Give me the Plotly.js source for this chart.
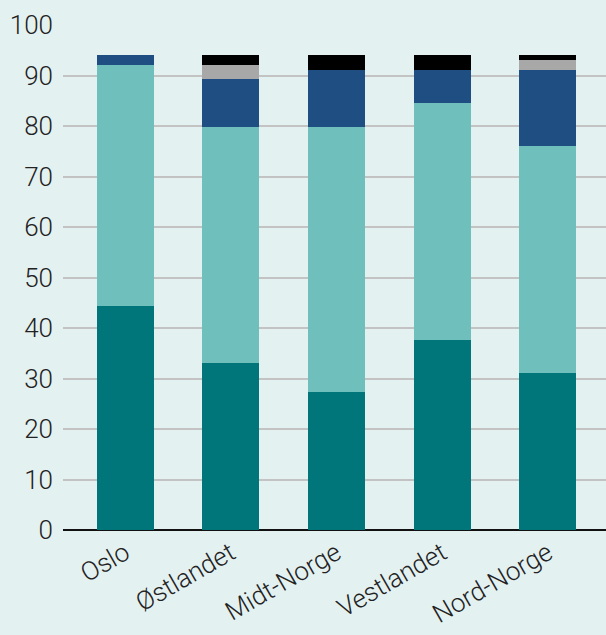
<!DOCTYPE html>
<html><head><meta charset="utf-8">
<script src="https://cdn.plot.ly/plotly-3.0.1.min.js"></script>
<style>html,body{margin:0;padding:0;background:#e4f1f1;}</style>
</head><body>
<div id="chart" style="width:606px;height:635px;"></div>
<script>
const categories = ["Oslo", "Østlandet", "Midt-Norge", "Vestlandet", "Nord-Norge"];
const series1 = [44.4, 33.1, 27.3, 37.6, 31.1];
const series2 = [47.7, 46.7, 52.5, 47.0, 44.9];
const series3 = [1.9, 9.5, 11.3, 6.5, 15.1];
const series4 = [0, 2.8, 0, 0, 2.0];
const series5 = [0, 1.9, 2.9, 2.9, 0.9];
const colors = ["#00757a", "#6fbfbc", "#1f4e82", "#a8a8a8", "#000000"];
const tickVals = [0,10,20,30,40,50,60,70,80,90,100];

const all = [series1, series2, series3, series4, series5];
const traces = all.map((s, i) => ({
  type: "bar", x: categories, y: s, width: 0.54,
  marker: {color: colors[i], line: {width: 0}},
  hoverinfo: "skip", showlegend: false
}));

const layout = {
  width: 606, height: 635,
  margin: {l: 63, r: 0, t: 25, b: 105},
  paper_bgcolor: "#e4f1f1", plot_bgcolor: "#e4f1f1",
  barmode: "stack",
  font: {family: "Roboto, 'DejaVu Sans Condensed', sans-serif", color: "#222"},
  xaxis: {
    range: [-0.587, 4.55], tickangle: -30, showgrid: false, ticklabelstandoff: 2,
    tickfont: {size: 26, color: "#222", weight: 300}, ticks: "", showline: false, zeroline: false
  },
  yaxis: {
    range: [0, 100], tickvals: tickVals, showgrid: true, gridcolor: "#c3c3c3", gridwidth: 2,
    zeroline: true, zerolinecolor: "#111", zerolinewidth: 2, ticklabelstandoff: 9,
    tickfont: {size: 26, color: "#222", weight: 300}, ticks: "", ticklen: 0, showline: false
  }
};
Plotly.newPlot("chart", traces, layout, {displayModeBar: false, staticPlot: true});
</script>
</body></html>
